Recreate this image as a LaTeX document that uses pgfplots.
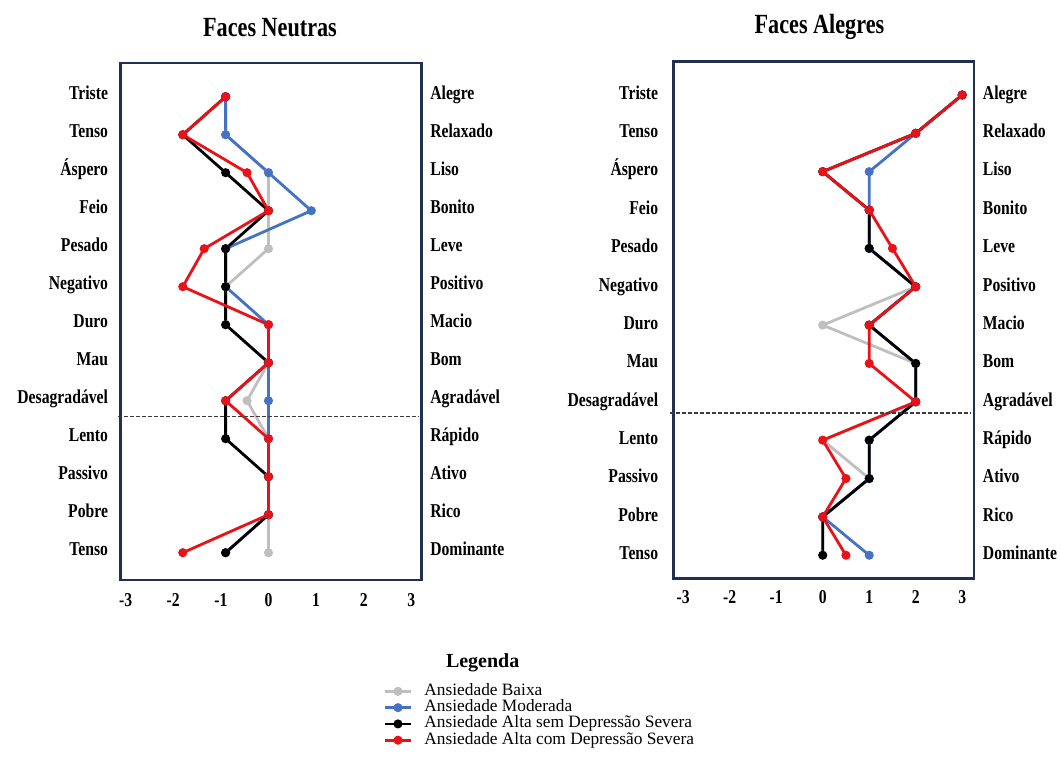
\documentclass[border=0pt]{standalone}
\usepackage{fontspec}
\setmainfont{Liberation Serif}
\newfontfamily\narrowserif[FakeStretch=0.8]{Liberation Serif}
\usepackage{pgfplots}
\usepackage{pgfplotstable}
\pgfplotsset{compat=1.18}

\definecolor{framenavy}{RGB}{31,48,80}
\definecolor{cbaixa}{RGB}{191,191,191}
\definecolor{cmoderada}{RGB}{68,114,196}
\definecolor{csemdep}{RGB}{0,0,0}
\definecolor{ccomdep}{RGB}{232,18,24}
\definecolor{cutline}{RGB}{60,60,60}

% pos 13 = top pair of adjectives, pos 1 = bottom pair
\pgfplotstableread{
pos baixa moderada semdep comdep
13 -0.9  -0.9  -0.9  -0.9
12 -0.9  -0.9  -1.8  -1.8
11  0     0    -0.9  -0.45
10  0     0.9   0     0
9   0    -0.9  -0.9  -1.35
8  -0.9  -0.9  -0.9  -1.8
7  -0.9   0    -0.9   0
6   0     0     0     0
5  -0.45  0    -0.9  -0.9
4   0     0    -0.9   0
3   0     0     0     0
2   0     0     0     0
1   0    -0.9  -0.9  -1.8
}\neutras

\pgfplotstableread{
pos baixa moderada semdep comdep
13 3 3 3 3
12 2 2 2 2
11 0 1 0 0
10 1 1 1 1
9  1 1 1 1.5
8  2 2 2 2
7  0 1 1 1
6  2 2 2 1
5  2 2 2 2
4  0 1 1 0
3  1 1 1 0.5
2  0 0 0 0
1  0 1 0 0.5
}\alegres

\newcommand{\labelfont}{\narrowserif\bfseries\fontsize{14.7}{14.7}\selectfont}
\newcommand{\titlefont}{\narrowserif\bfseries\fontsize{20.8}{20.8}\selectfont}

\pgfplotsset{
  panel/.style={
    scale only axis, width=225.75pt, height=387.75pt,
    axis line style={draw=framenavy, line width=2.2pt},
    major tick length=0pt,
    ytick={1,...,13},
    xtick={-3,...,3}, xticklabels={-3,-2,-1,0,1,2,3},
    ticklabel style={font=\labelfont, inner sep=0pt},
    clip=false,
  },
  series/.style={color=#1, line width=2.1pt, mark=*, mark size=2.3pt,
    mark options={solid, fill=#1}},
  legend image code/.code={%
    \draw[mark repeat=2, mark phase=2, #1]
      plot coordinates {(0pt,0pt) (10pt,0pt) (20pt,0pt)};},
}

\begin{document}
\begin{tikzpicture}
\useasboundingbox (0,0) rectangle (795.75pt,571.5pt);

% ---------- Faces Neutras ----------
\begin{axis}[panel,
  at={(90.5pt,136.5pt)}, anchor=south west,
  xmin=-3.105, xmax=3.218, ymin=0.282, ymax=13.887,
  xticklabel style={anchor=base, yshift=-20pt},
  yticklabel style={anchor=base east, xshift=-9.3pt, yshift=-1.8pt},
  yticklabels={Tenso,Pobre,Passivo,Lento,Desagradável,Mau,Duro,Negativo,Pesado,Feio,Áspero,Tenso,Triste},
  legend style={at={(axis description cs:0.8715,-0.1992)}, anchor=north west,
    draw=none, fill=none, inner sep=0pt, row sep=0pt, column sep=8.8pt,
    font=\fontsize{13}{13}\selectfont,
    nodes={inner sep=0pt, text height=9pt, text depth=3.2pt}},
  legend cell align=left,
]
\addplot[series=cbaixa] table[x=baixa, y=pos] {\neutras};
\addlegendentry{Ansiedade Baixa}
\addplot[series=cmoderada] table[x=moderada, y=pos] {\neutras};
\addlegendentry{Ansiedade Moderada}
\addplot[series=csemdep] table[x=semdep, y=pos] {\neutras};
\addlegendentry{Ansiedade Alta sem Depressão Severa}
\addplot[series=ccomdep] table[x=comdep, y=pos] {\neutras};
\addlegendentry{Ansiedade Alta com Depressão Severa}
\draw[cutline, line width=1pt, dash pattern=on 3pt off 1.5pt]
  (axis cs:-3.155,4.58) -- (axis cs:3.16,4.58);
\end{axis}
\begin{axis}[panel,
  at={(90.5pt,136.5pt)}, anchor=south west,
  xmin=-3.105, xmax=3.218, ymin=0.282, ymax=13.887,
  axis line style={draw=none}, xtick=\empty,
  yticklabel pos=right,
  yticklabel style={anchor=base west, xshift=6.3pt, yshift=-1.8pt},
  yticklabels={Dominante,Rico,Ativo,Rápido,Agradável,Bom,Macio,Positivo,Leve,Bonito,Liso,Relaxado,Alegre},
]
\end{axis}

% ---------- Faces Alegres ----------
\begin{axis}[panel,
  at={(505pt,137.8pt)}, anchor=south west,
  width=225.5pt, height=387.45pt,
  xmin=-3.213, xmax=3.254, ymin=0.40, ymax=13.868,
  xticklabel style={anchor=base, yshift=-19.3pt},
  yticklabel style={anchor=base east, xshift=-11.2pt, yshift=-3.2pt},
  yticklabels={Tenso,Pobre,Passivo,Lento,Desagradável,Mau,Duro,Negativo,Pesado,Feio,Áspero,Tenso,Triste},
]
\addplot[series=cbaixa] table[x=baixa, y=pos] {\alegres};
\addplot[series=cmoderada] table[x=moderada, y=pos] {\alegres};
\addplot[series=csemdep] table[x=semdep, y=pos] {\alegres};
\addplot[series=ccomdep] table[x=comdep, y=pos] {\alegres};
\draw[cutline, line width=1pt, dash pattern=on 3pt off 1.5pt]
  (axis cs:-3.28,4.705) -- (axis cs:3.20,4.705);
\end{axis}
\begin{axis}[panel,
  at={(505pt,137.8pt)}, anchor=south west,
  width=225.5pt, height=387.45pt,
  xmin=-3.213, xmax=3.254, ymin=0.40, ymax=13.868,
  axis line style={draw=none}, xtick=\empty,
  yticklabel pos=right,
  yticklabel style={anchor=base west, xshift=6.5pt, yshift=-3.2pt},
  yticklabels={Dominante,Rico,Ativo,Rápido,Agradável,Bom,Macio,Positivo,Leve,Bonito,Liso,Relaxado,Alegre},
]
\end{axis}

% titles
\node[anchor=base, inner sep=0pt, font=\titlefont] at (202.5pt,544pt) {Faces Neutras};
\node[anchor=base, inner sep=0pt, font=\titlefont] at (614.6pt,546.5pt) {Faces Alegres};
\node[anchor=base, inner sep=0pt, font=\bfseries\fontsize{15}{15}\selectfont] at (362pt,70.5pt) {Legenda};
\end{tikzpicture}
\end{document}
